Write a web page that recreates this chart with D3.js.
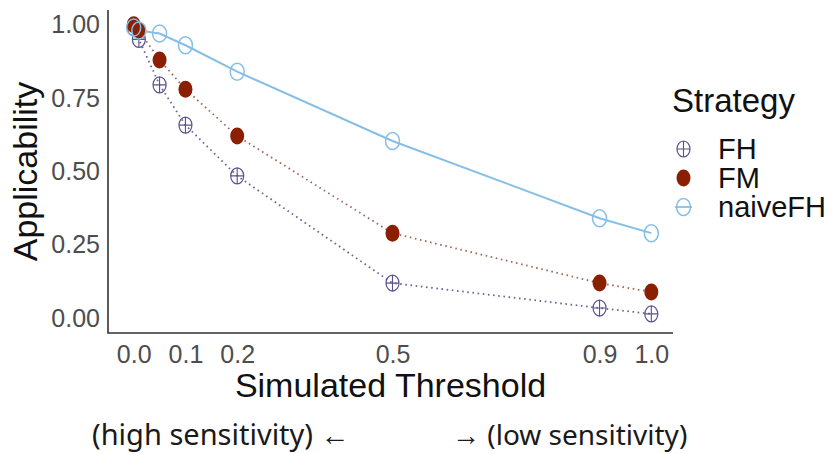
<!DOCTYPE html>
<html>
<head>
<meta charset="utf-8">
<script src="https://cdn.jsdelivr.net/npm/d3@7/dist/d3.min.js"></script>
<style>
  html, body { margin: 0; padding: 0; background: #fff; }
  svg { display: block; }
</style>
</head>
<body>
<svg id="chart" width="840" height="454"></svg>
<script>
// Simulated threshold values (x) and applicability per strategy
const thresholds = [0, 0.01, 0.05, 0.1, 0.2, 0.5, 0.9, 1.0];
const fhValues    = [0.99, 0.95, 0.795, 0.658, 0.485, 0.12, 0.035, 0.015];
const fmValues    = [1.00, 0.98, 0.88, 0.78, 0.621, 0.29, 0.12, 0.09];
const naiveValues = [0.99, 0.98, 0.97, 0.93, 0.84, 0.604, 0.341, 0.29];

const xTicks = [0, 0.1, 0.2, 0.5, 0.9, 1.0];
const yTicks = [0, 0.25, 0.5, 0.75, 1.0];
const strategies = ["FH", "FM", "naiveFH"];

const colors = { FH: "#5b5191", FM: "#8a1f02", naiveFH: "#86bfe6" };
const lineColors = { FH: "#6d6399", FM: "#a06a5a", naiveFH: "#86bfe6" };

const series = [
  { name: "FH", values: fhValues },
  { name: "FM", values: fmValues },
  { name: "naiveFH", values: naiveValues }
];

const svg = d3.select("#chart");
const font = "'Liberation Sans', Arial, Helvetica, sans-serif";

// panel bounds
const panel = { left: 108, right: 673, top: 10, bottom: 333 };
const padX = (panel.right - panel.left) / 1.1 * 0.05;
const padY = (panel.bottom - panel.top) / 1.1 * 0.05;

const x = d3.scaleLinear().domain([0, 1])
  .range([panel.left + padX, panel.right - padX + 4]);
const y = d3.scaleLinear().domain([0, 1])
  .range([panel.bottom - padY, panel.top + padY]);

// axes (no tick marks, gray labels)
const xAxis = d3.axisBottom(x).tickValues(xTicks).tickFormat(d3.format(".1f"))
  .tickSize(0).tickPadding(8);
const yAxis = d3.axisLeft(y).tickValues(yTicks).tickFormat(d3.format(".2f"))
  .tickSize(0).tickPadding(8);

const gx = svg.append("g").attr("transform", `translate(0,${panel.bottom})`).call(xAxis);
const gy = svg.append("g").attr("transform", `translate(${panel.left},0)`).call(yAxis);
gx.select(".domain").remove();
gy.select(".domain").remove();
[gx, gy].forEach(g => g.selectAll("text")
  .attr("font-family", font).attr("font-size", 25).attr("fill", "#4d4d4d"));
gx.selectAll("text").attr("dy", "0.88em");

// axis lines
svg.append("path")
  .attr("d", `M${panel.left},${panel.top}V${panel.bottom}H${panel.right}`)
  .attr("fill", "none").attr("stroke", "#333").attr("stroke-width", 1.6);

// lines
const line = d3.line().x((d, i) => x(thresholds[i])).y(d => y(d));
series.forEach(s => {
  svg.append("path")
    .datum(s.values)
    .attr("d", line)
    .attr("fill", "none")
    .attr("stroke", lineColors[s.name])
    .attr("stroke-width", s.name === "naiveFH" ? 2 : 1.8)
    .attr("stroke-dasharray", s.name === "naiveFH" ? null : "1.6,3.6");
});

// point shapes
function drawMarker(g, name, cx, cy) {
  const rx = 7, ry = 8.5;
  if (name === "FM") {
    g.append("ellipse").attr("cx", cx).attr("cy", cy).attr("rx", rx).attr("ry", ry)
      .attr("fill", colors.FM);
  } else if (name === "FH") {
    g.append("ellipse").attr("cx", cx).attr("cy", cy).attr("rx", rx - 0.5).attr("ry", ry - 0.5)
      .attr("fill", "none").attr("stroke", colors.FH).attr("stroke-width", 1.2);
    g.append("path")
      .attr("d", `M${cx - rx + 0.5},${cy}H${cx + rx - 0.5}M${cx},${cy - ry + 0.5}V${cy + ry - 0.5}`)
      .attr("stroke", colors.FH).attr("stroke-width", 1.1);
  } else {
    g.append("ellipse").attr("cx", cx).attr("cy", cy).attr("rx", rx).attr("ry", ry)
      .attr("fill", "none").attr("stroke", colors.naiveFH).attr("stroke-width", 1.5);
  }
}

const pts = svg.append("g");
series.forEach(s => {
  s.values.forEach((v, i) => drawMarker(pts, s.name, x(thresholds[i]), y(v)));
});

// axis titles
svg.append("text")
  .attr("x", (panel.left + panel.right) / 2).attr("y", 397)
  .attr("text-anchor", "middle")
  .attr("font-family", font).attr("font-size", 34).attr("fill", "#111")
  .text("Simulated Threshold");

svg.append("text")
  .attr("transform", `translate(37,${(panel.top + panel.bottom) / 2}) rotate(-90)`)
  .attr("text-anchor", "middle")
  .attr("font-family", font).attr("font-size", 34).attr("fill", "#111")
  .text("Applicability");

// legend
const legend = svg.append("g");
legend.append("text")
  .attr("x", 672).attr("y", 112)
  .attr("font-family", font).attr("font-size", 33).attr("fill", "#111")
  .text("Strategy");
strategies.forEach((name, i) => {
  const cy = 149 + i * 29;
  if (name === "naiveFH") {
    legend.append("line").attr("x1", 675).attr("x2", 692).attr("y1", cy).attr("y2", cy)
      .attr("stroke", colors.naiveFH).attr("stroke-width", 1.8);
  }
  drawMarker(legend, name, 683.5, cy);
  legend.append("text")
    .attr("x", 718).attr("y", cy + 10)
    .attr("font-family", font).attr("font-size", 29).attr("fill", "#111")
    .text(name);
});

// sensitivity direction note
const noteFont = "'Noto Sans', 'Open Sans', sans-serif";
svg.append("text")
  .attr("x", 92).attr("y", 445)
  .attr("font-family", noteFont).attr("font-size", 29).attr("fill", "#1a1a1a")
  .text("(high sensitivity) \u2190");
svg.append("text")
  .attr("x", 452).attr("y", 445)
  .attr("font-family", noteFont).attr("font-size", 28).attr("fill", "#1a1a1a")
  .text("\u2192 (low sensitivity)");
</script>
</body>
</html>
